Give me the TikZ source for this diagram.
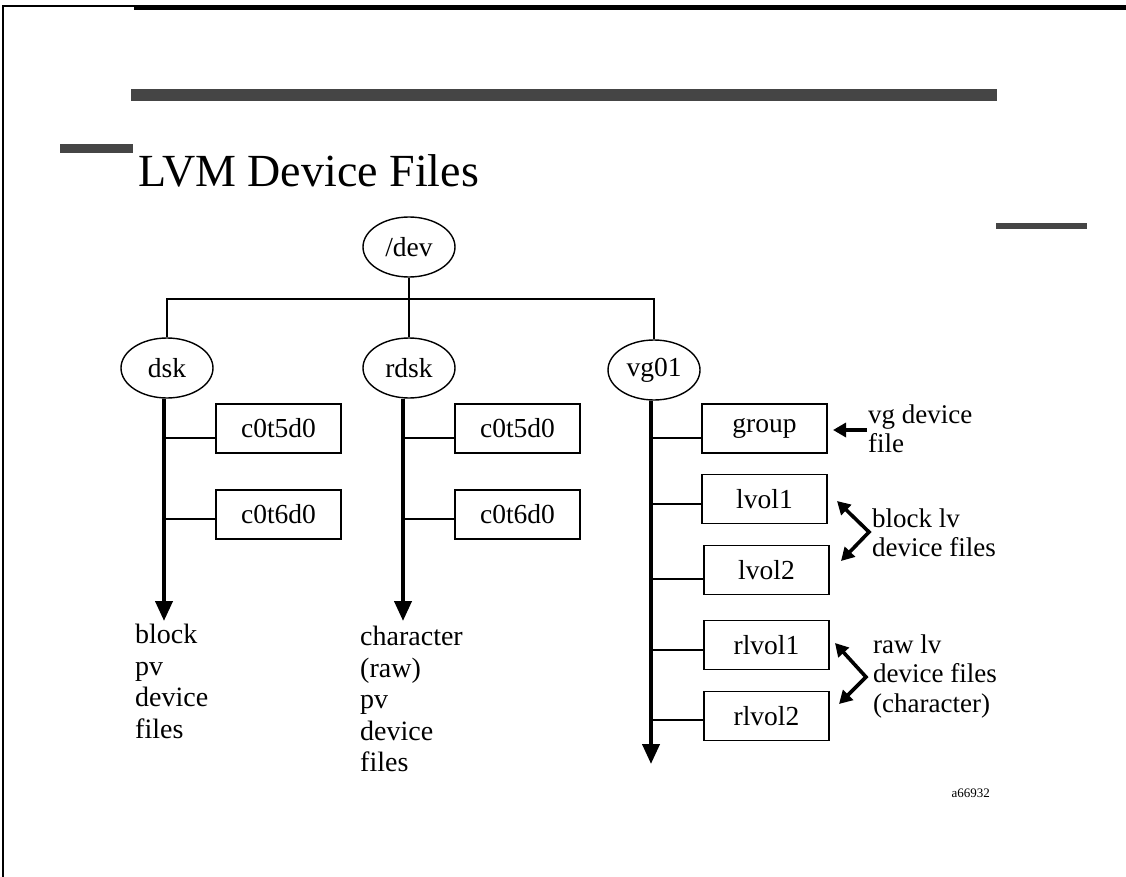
\documentclass[tikz,border=0pt]{standalone}
\usepackage{fontspec}
\setmainfont{Liberation Serif}
\usetikzlibrary{shapes.geometric,arrows.meta,calc}
\definecolor{bargray}{gray}{0.27}
\newcommand{\bodyfnt}{\fontsize{28}{31.5}\selectfont}
\newcommand{\boxfnt}{\fontsize{27.5}{30}\selectfont}
\newcommand{\sidefnt}{\fontsize{27}{29.5}\selectfont}
\begin{document}
\begin{tikzpicture}[x=1pt,y=-1pt,
  ell/.style={draw, ellipse, line width=1.4pt, minimum width=92pt, minimum height=60pt, inner sep=0pt, font=\boxfnt},
  fbox/.style={draw, line width=1.8pt, minimum width=125pt, minimum height=49pt, inner sep=0pt, font=\boxfnt},
  thinln/.style={line width=1.8pt},
  stemln/.style={line width=4pt, -{Triangle[width=17pt,length=20pt]}},
  sidearr/.style={line width=3.6pt, -{Triangle[width=14pt,length=13pt]}},
  twoarr/.style={line width=3.6pt, {Triangle[width=14pt,length=13pt]}-{Triangle[width=14pt,length=13pt]}},
  lbl/.style={anchor=north west, inner sep=0pt, align=left},
  bar/.style={fill=bargray, draw=none}
]
\useasboundingbox (0,0) rectangle (1126,877);
% frame lines and bars
\draw[line width=1.5pt] (3,877) -- (3,6) -- (134,6);
\fill[black] (134,5) rectangle (1126,10);
\fill[bar] (131,89) rectangle (997,101);
\fill[bar] (60,144) rectangle (133,153);
\fill[bar] (996,223) rectangle (1087,229);
% title
\node[anchor=base west, inner sep=0pt, font=\fontsize{46}{50}\selectfont] (title) at (138,187) {LVM Device Files};
% tree nodes
\node[ell] (dev) at (409,247) {/dev};
\node[ell] (dsk) at (167,368) {dsk};
\node[ell] (rdsk) at (409,368) {rdsk};
\node[ell] (vg) at (654,370) {vg01};
\coordinate (bus) at (409,299);
\draw[thinln] (dev.south) -- (rdsk.north);
\draw[thinln] (dsk.north) |- (bus) -| (vg.north);
% boxes
\node[fbox] (d5) at (278.5,428.5) {c0t5d0};
\node[fbox] (d6) at (278.5,514.5) {c0t6d0};
\node[fbox] (r5) at (517.5,428.5) {c0t5d0};
\node[fbox] (r6) at (517.5,514.5) {c0t6d0};
\node[fbox] (grp) at (764.5,428.5) {group};
\node[fbox] (lv1) at (764.5,499) {lvol1};
\node[fbox] (lv2) at (766.5,570) {lvol2};
\node[fbox] (rl1) at (766.5,645) {rlvol1};
\node[fbox] (rl2) at (766.5,716) {rlvol2};
% stems
\coordinate (dskend) at (164,621);
\coordinate (rdskend) at (403,621);
\coordinate (vgend) at (651,764);
\draw[stemln] ($(dsk.south)+(-3,0)$) -- (dskend);
\draw[stemln] ($(rdsk.south)+(-6,0)$) -- (rdskend);
\draw[stemln] ($(vg.south)+(-3,0)$) -- (vgend);
% connectors
\draw[thinln] ([yshift=-9.5pt]d5.west) -- ++(-52,0);
\draw[thinln] ([yshift=-4.5pt]d6.west) -- ++(-52,0);
\draw[thinln] ([yshift=-9.5pt]r5.west) -- ++(-52,0);
\draw[thinln] ([yshift=-4.5pt]r6.west) -- ++(-52,0);
\draw[thinln] ([yshift=-9.5pt]grp.west) -- ++(-51,0);
\draw[thinln] ([yshift=-5pt]lv1.west) -- ++(-51,0);
\draw[thinln] ([yshift=-9pt]lv2.west) -- ++(-53,0);
\draw[thinln] ([yshift=-5pt]rl1.west) -- ++(-53,0);
\draw[thinln] ([yshift=-4pt]rl2.west) -- ++(-53,0);
% bottom labels
\node[lbl, font=\bodyfnt] (blk) at (135,624) {block\\pv\\device\\files};
\node[lbl, font=\bodyfnt] (chr) at (360,626) {character\\(raw)\\pv\\device\\files};
% side labels and arrows
\node[lbl, font=\sidefnt] (vgl) at (868,404.5) {vg device\\file};
\node[lbl, font=\sidefnt] (bll) at (872,508.5) {block lv\\device files};
\node[lbl, font=\sidefnt] (rwl) at (873,634.5) {raw lv\\device files\\(character)};
\coordinate (vgtail) at (867,430);
\coordinate (vgtip) at (833,430);
\draw[sidearr] (vgtail) -- (vgtip);
\coordinate (b1) at (837,501);
\coordinate (bv) at (869,532);
\coordinate (b2) at (841,561);
\draw[twoarr, line join=miter] (b1) -- (bv) -- (b2);
\coordinate (r1) at (835,643);
\coordinate (rv) at (866,677);
\coordinate (r2) at (839,704);
\draw[twoarr, line join=miter] (r1) -- (rv) -- (r2);
% id
\node[anchor=base east, inner sep=0pt, font=\fontsize{13}{15}\selectfont] (id) at (990,797) {a66932};
\end{tikzpicture}
\end{document}
